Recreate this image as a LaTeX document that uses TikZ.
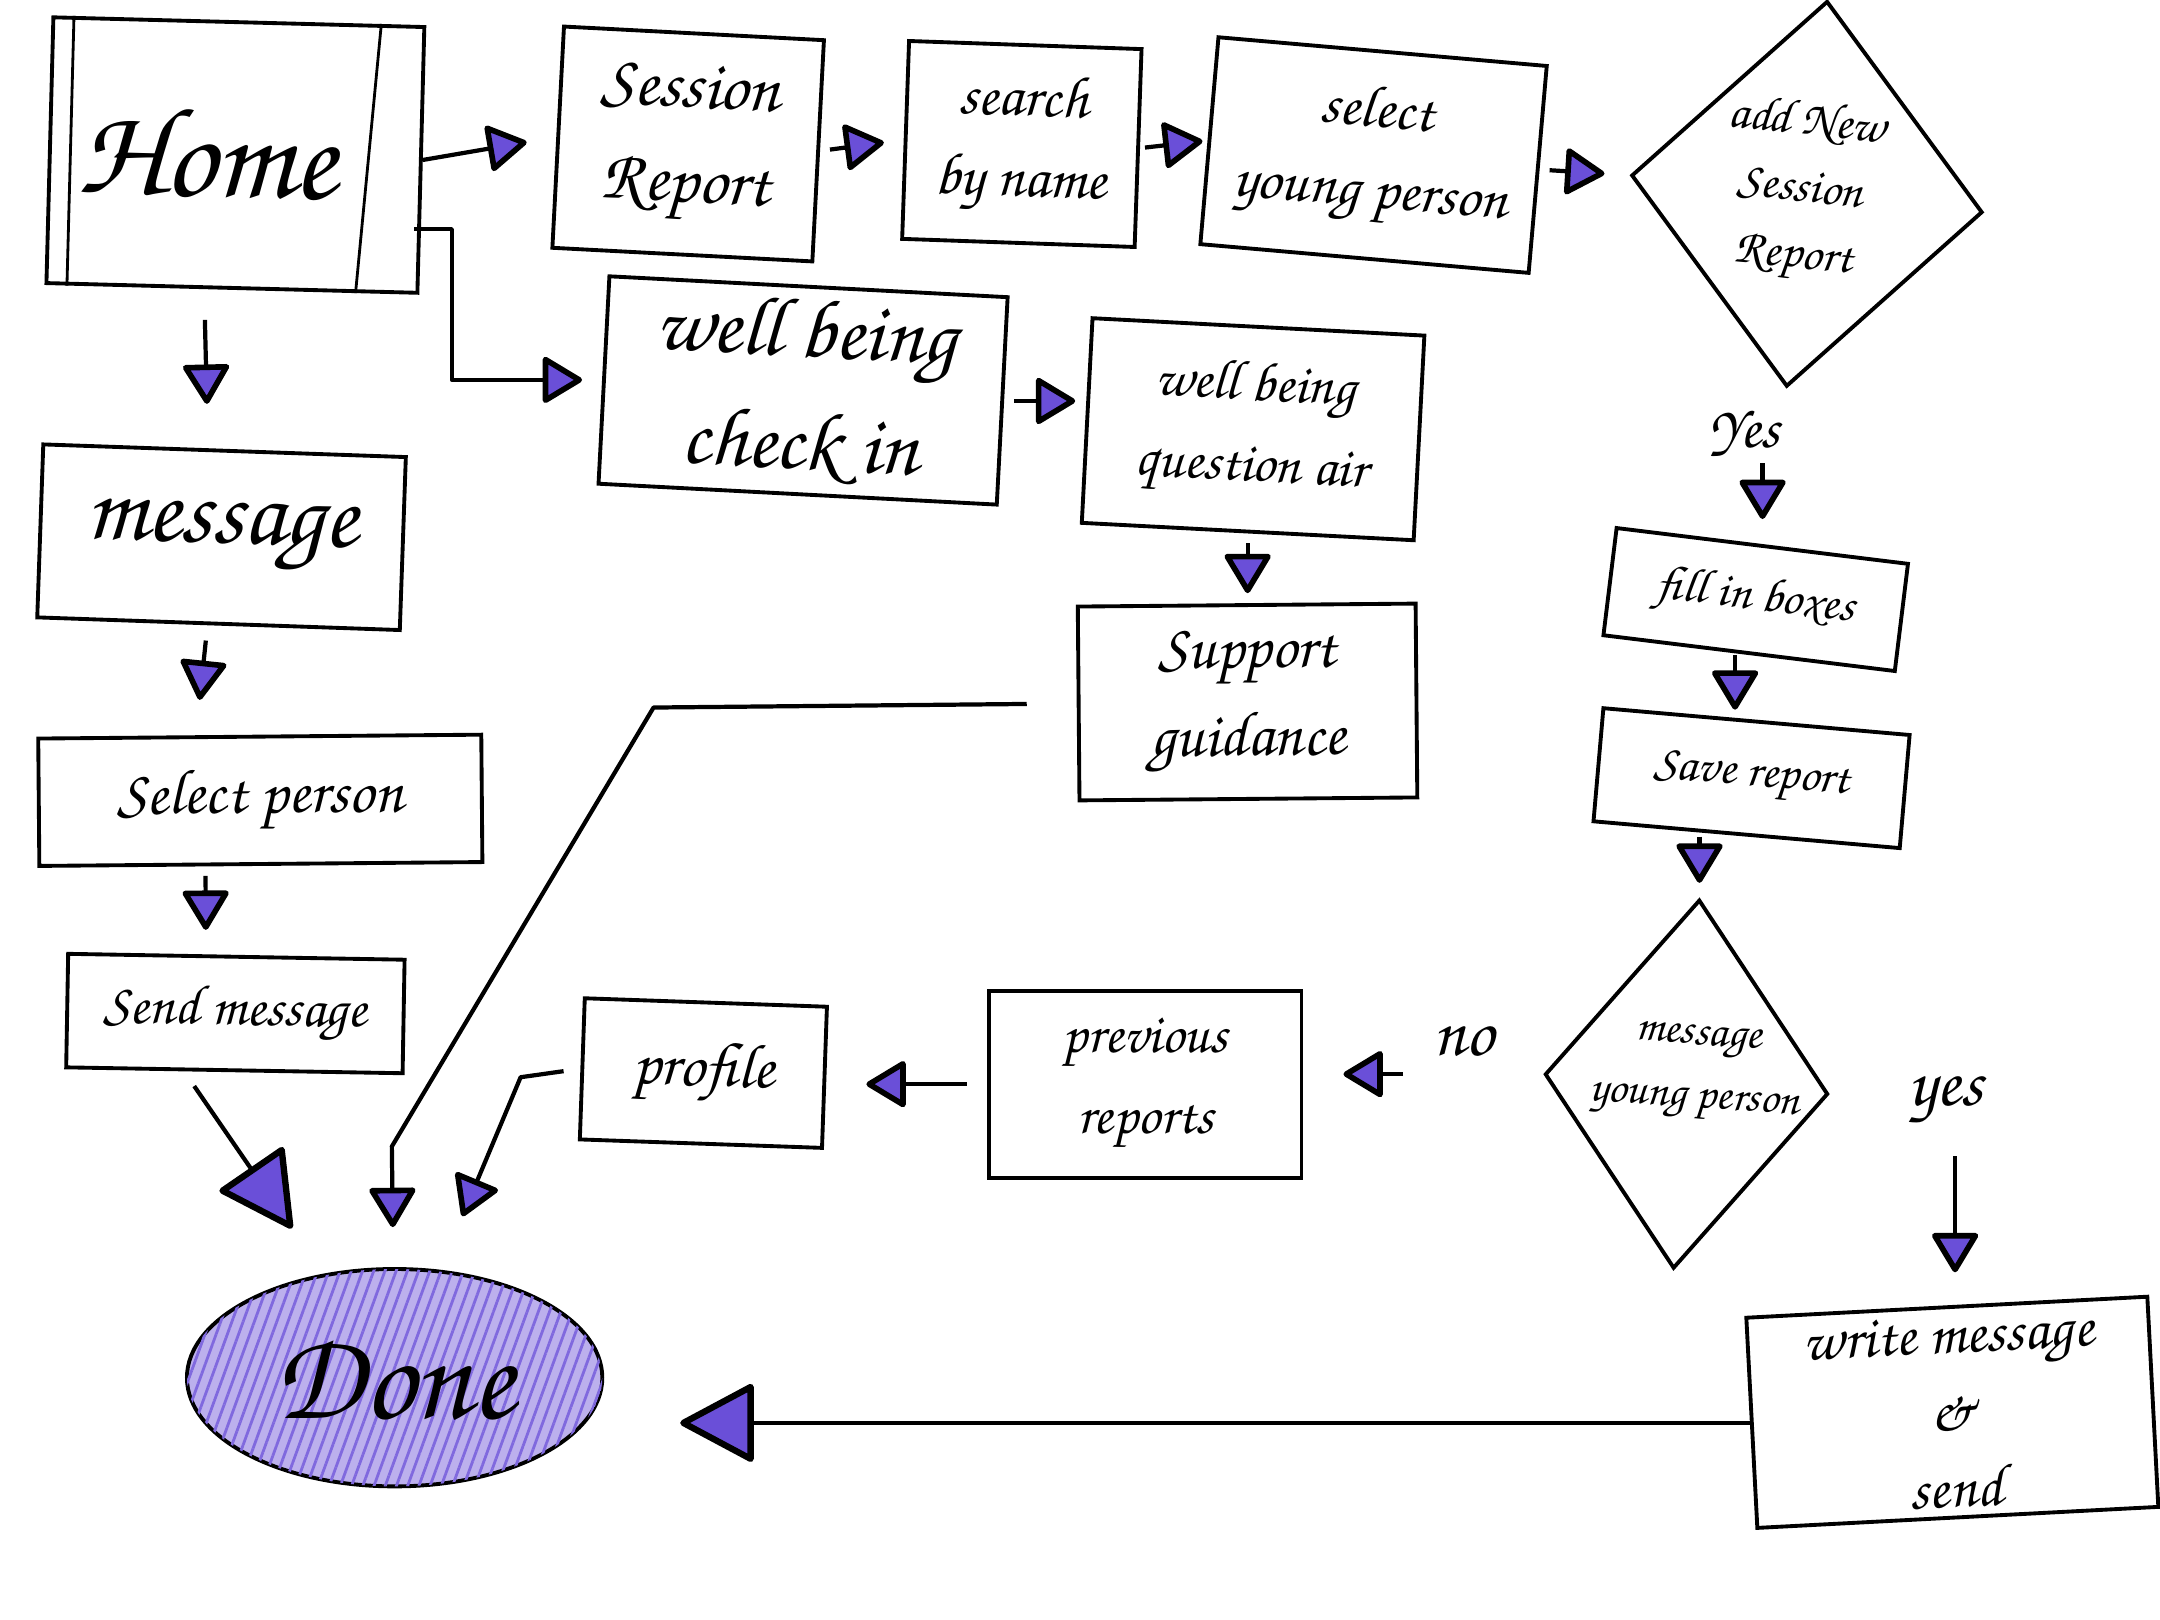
\documentclass[tikz,border=0pt]{standalone}
\usepackage[T1,TU]{fontenc}
\usetikzlibrary{arrows.meta,shapes.geometric,calc,patterns.meta}

\definecolor{tri}{HTML}{6A4FD8}
\newcommand{\hand}{\fontencoding{T1}\fontfamily{pzc}\fontseries{mb}\fontshape{it}\selectfont}
\newcommand{\pxu}{0.01385cm}

\tikzset{
  pagebox/.style={draw, line width=1.1pt, inner sep=0pt, align=center},
  flow/.style={line width=1.2pt, line join=round, -{Triangle[round, fill=tri, length=12pt, width=14pt, line width=1.6pt]}},
  bigflow/.style={line width=1.2pt, -{Triangle[round, fill=tri, length=22pt, width=23pt, line width=1.8pt]}},
  choice/.style={font={\fontsize{17}{20}\hand}}
}

\begin{document}
\begin{tikzpicture}[x=0.01385cm, y=-0.01385cm]
  \fill[white] (0,0) rectangle (1560,1170);
  \useasboundingbox (0,0) rectangle (1560,1170);

  % top row
  \node[pagebox, minimum width=268*\pxu, minimum height=192*\pxu, rotate=-1.5] (home) at (170,112) {};
  \node[font={\fontsize{36}{40}\hand}, rotate=-1.5] (hometxt) at (150,110) {Home};
  \draw[line width=0.8pt] ($(home.north west)!0.06!(home.north east)$) -- ($(home.south west)!0.06!(home.south east)$);
  \draw[line width=0.8pt] ($(home.north west)!0.88!(home.north east)$) -- ($(home.south west)!0.83!(home.south east)$);
  \node[pagebox, minimum width=188*\pxu, minimum height=160*\pxu, rotate=-3, font={\fontsize{20}{27}\hand}] (sess) at (497,104) {Session\\Report};
  \node[pagebox, minimum width=168*\pxu, minimum height=143*\pxu, rotate=-2, font={\fontsize{17}{23}\hand}] (search) at (738,104) {search\\by name};
  \node[pagebox, minimum width=238*\pxu, minimum height=150*\pxu, rotate=-5, font={\fontsize{17}{23}\hand}] (select) at (992,112) {select\\young person};
  \node[draw, diamond, line width=1.1pt, inner sep=0pt, minimum width=255*\pxu, minimum height=280*\pxu, rotate=-6] (addnew) at (1305,140) {};
  \node[align=center, rotate=-6, font={\fontsize{14}{19}\hand}] (addnewtxt) at (1300,138) {add New\\Session\\Report};

  % wellbeing row
  \node[pagebox, minimum width=288*\pxu, minimum height=150*\pxu, rotate=-3, font={\fontsize{24}{32}\hand}] (well) at (580,282) {well being\\check in};
  \node[pagebox, minimum width=240*\pxu, minimum height=148*\pxu, rotate=-3, font={\fontsize{16}{23}\hand}] (quest) at (905,310) {well being\\question air};
  \node[pagebox, minimum width=244*\pxu, minimum height=140*\pxu, rotate=0.5, font={\fontsize{18}{25}\hand}] (supp) at (901,507) {Support\\guidance};

  % left column
  \node[pagebox, minimum width=262*\pxu, minimum height=125*\pxu, rotate=-2, font={\fontsize{28}{32}\hand}] (msg) at (160,388) {message};
  \node[pagebox, minimum width=320*\pxu, minimum height=92*\pxu, rotate=0.5, font={\fontsize{18}{22}\hand}] (selp) at (188,578) {Select person};
  \node[pagebox, minimum width=243*\pxu, minimum height=82*\pxu, rotate=-1, font={\fontsize{16}{20}\hand}] (send) at (170,732) {Send message};

  % right column
  \node[pagebox, minimum width=212*\pxu, minimum height=78*\pxu, rotate=-7, font={\fontsize{14}{18}\hand}] (fill) at (1268,433) {fill in boxes};
  \node[pagebox, minimum width=222*\pxu, minimum height=82*\pxu, rotate=-5, font={\fontsize{14}{18}\hand}] (save) at (1265,562) {Save report};
  \node[draw, diamond, line width=1.1pt, inner sep=0pt, minimum width=205*\pxu, minimum height=267*\pxu, rotate=-4] (msgyp) at (1218,783) {};
  \node[align=center, rotate=-4, font={\fontsize{13}{18}\hand}] (msgyptxt) at (1225,775) {message\\young person};
  \node[pagebox, minimum width=290*\pxu, minimum height=152*\pxu, rotate=3, font={\fontsize{17}{22}\hand}] (write) at (1410,1020) {write message\\\&\\send};

  % bottom row
  \node[pagebox, minimum width=175*\pxu, minimum height=102*\pxu, rotate=-2, font={\fontsize{18}{22}\hand}] (profile) at (508,775) {profile};
  \node[pagebox, minimum width=226*\pxu, minimum height=135*\pxu, font={\fontsize{16}{23}\hand}] (prev) at (827,783) {previous\\reports};
  \node[draw, ellipse, line width=1.1pt, inner sep=0pt, minimum width=300*\pxu, minimum height=157*\pxu,
        fill=tri!45, postaction={pattern={Lines[angle=70, distance=3pt, line width=0.8pt]}, pattern color=tri!85},
        font={\fontsize{36}{40}\hand}] (done) at (285,995) {Done};

  % labels
  \node[choice] (yeslbl) at (1260,313) {Yes};
  \node[choice, font={\fontsize{20}{24}\hand}] (nolbl) at (1057,752) {no};
  \node[choice, font={\fontsize{20}{24}\hand}] (yes2lbl) at (1405,795) {yes};
  \coordinate (ystart) at (1412,835);
  \coordinate (sbend1) at (472,511);
  \coordinate (sbend2) at (283,828);
  \coordinate (pbend) at (376,778);
  \coordinate (fstart) at ($(fill.south)+(-10,0)$);

  % connectors
  \draw[flow, shorten >=0.3cm] (home.east) -- (sess.west);
  \draw[flow, shorten >=0.2cm] ($(home.east)+(-6,50)$) -- ++(27,0) |- (well.west);
  \draw[flow, shorten <=0.1cm, shorten >=0.2cm] (sess.east) -- (search.west);
  \draw[flow, shorten <=0.05cm, shorten >=0.05cm] (search.east) -- (select.west);
  \draw[flow, shorten <=0.1cm, shorten >=0.25cm] (select.east) -- (addnew.west);
  \draw[flow, shorten <=0.75cm, shorten >=0.25cm] (fill.north |- addnew.south) -- (fill.north);
  \draw[flow, shorten >=0.1cm] (fstart) -- (fstart |- save.north);
  \draw[flow, shorten >=0.15cm] (msgyp.north |- save.south) -- (msgyp.north);
  \draw[flow, shorten <=1.4cm, shorten >=0.4cm] (msgyp.west) -- (msgyp.west -| prev.east);
  \draw[flow, shorten >=0.33cm] (ystart) -- (ystart |- write.north);
  \draw[bigflow, shorten >=0.76cm] (write.west) -- (write.west -| done.east);
  \draw[flow, shorten <=0.2cm, shorten >=0.4cm] (prev.west) -- (prev.west -| profile.east);
  \draw[flow, shorten <=0.17cm, shorten >=0.58cm] (profile.west) -- (pbend) -- (done);
  \draw[flow, shorten <=0.5cm, shorten >=0.4cm] (supp.west) -- (sbend1) -- (sbend2) -- (done);
  \draw[bigflow, shorten >=0.55cm] ($(send.south)+(-29,10)$) -- (done);
  \draw[flow, shorten <=0.3cm, shorten >=0.45cm] ($(home.south)+(-20,0)$) -- ($(msg.north)+(-12,0)$);
  \draw[flow, shorten <=0.15cm, shorten >=0.35cm] ($(msg.south)+(-8,0)$) -- ($(selp.north)+(-46,0)$);
  \draw[flow, shorten <=0.1cm, shorten >=0.25cm] ($(selp.south)+(-40,0)$) -- ($(send.north)+(-22,0)$);
  \draw[flow, shorten <=0.1cm, shorten >=0.1cm] (well.east) -- (well.east -| quest.west);
  \draw[flow, shorten <=0.1cm, shorten >=0.1cm] (quest.south) -- (quest.south |- supp.north);
\end{tikzpicture}
\end{document}
